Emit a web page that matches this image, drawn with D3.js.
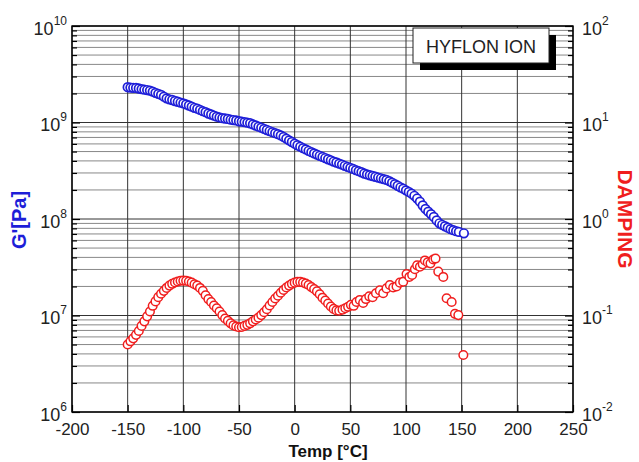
<!DOCTYPE html>
<html>
<head>
<meta charset="utf-8">
<script src="https://cdn.jsdelivr.net/npm/d3@7"></script>
<style>
  body { margin: 0; background: #fff; }
  svg { display: block; font-family: "Liberation Sans", Arial, sans-serif; }
</style>
</head>
<body>
<svg width="639" height="462"></svg>
<script>
// storage modulus G' (Pa) vs temperature (°C)
const modTemp = [
  -150, -147.5, -145, -142.5, -140, -137.5, -135, -132.5, -130, -127.5,
  -125, -122.5, -120, -117.5, -115, -112.5, -110, -107.5, -105, -102.5,
  -100, -97.5, -95, -92.5, -90, -87.5, -85, -82.5, -80, -77.5,
  -75, -72.5, -70, -67.5, -65, -62.5, -60, -57.5, -55, -52.5,
  -50, -47.5, -45, -42.5, -40, -37.5, -35, -32.5, -30, -27.5,
  -25, -22.5, -20, -17.5, -15, -12.5, -10, -7.5, -5, -2.5,
  0, 2.5, 5, 7.5, 10, 12.5, 15, 17.5, 20, 22.5,
  25, 27.5, 30, 32.5, 35, 37.5, 40, 42.5, 45, 47.5,
  50, 52.5, 55, 57.5, 60, 62.5, 65, 67.5, 70, 72.5,
  75, 77.5, 80, 82.5, 85, 87.5, 90, 92.5, 95, 97.5,
  100, 102.5, 105, 107.5, 110, 112.5, 115, 117.5, 120, 122.5,
  125, 127.5, 130, 132.5, 135, 137.5, 140, 142.5, 145, 147.5,
  152
];
const modG = [
  2.32e9, 2.30e9, 2.29e9, 2.28e9, 2.25e9, 2.22e9, 2.19e9, 2.17e9, 2.14e9, 2.09e9,
  2.03e9, 1.98e9, 1.93e9, 1.85e9, 1.78e9, 1.74e9, 1.71e9, 1.67e9, 1.64e9, 1.61e9,
  1.58e9, 1.54e9, 1.50e9, 1.46e9, 1.42e9, 1.39e9, 1.35e9, 1.31e9, 1.28e9, 1.24e9,
  1.21e9, 1.18e9, 1.15e9, 1.13e9, 1.11e9, 1.10e9, 1.09e9, 1.07e9, 1.06e9, 1.05e9,
  1.03e9, 1.02e9, 1.01e9, 9.95e8, 9.82e8, 9.55e8, 9.31e8, 9.06e8, 8.83e8, 8.59e8,
  8.36e8, 8.15e8, 7.94e8, 7.76e8, 7.57e8, 7.35e8, 7.08e8, 6.81e8, 6.53e8, 6.28e8,
  6.03e8, 5.81e8, 5.62e8, 5.43e8, 5.26e8, 5.09e8, 4.93e8, 4.78e8, 4.65e8, 4.52e8,
  4.40e8, 4.28e8, 4.16e8, 4.06e8, 3.94e8, 3.85e8, 3.75e8, 3.66e8, 3.56e8, 3.47e8,
  3.38e8, 3.30e8, 3.21e8, 3.13e8, 3.05e8, 2.96e8, 2.90e8, 2.84e8, 2.79e8, 2.74e8,
  2.69e8, 2.64e8, 2.59e8, 2.54e8, 2.47e8, 2.38e8, 2.30e8, 2.21e8, 2.13e8, 2.06e8,
  1.98e8, 1.91e8, 1.83e8, 1.74e8, 1.63e8, 1.51e8, 1.38e8, 1.27e8, 1.19e8, 1.12e8,
  1.05e8, 9.66e7, 9.02e7, 8.71e7, 8.41e7, 8.13e7, 7.85e7, 7.66e7, 7.48e7, 7.35e7,
  7.11e7
];

// damping (tan delta) vs temperature
const dampTemp = [
  -150, -147.5, -145, -142.5, -140, -137.5, -135, -132.5, -130, -127.5,
  -125, -122.5, -120, -117.5, -115, -112.5, -110, -107.5, -105, -102.5,
  -100, -97.5, -95, -92.5, -90, -87.5, -85, -82.5, -80, -77.5,
  -75, -72.5, -70, -67.5, -65, -62.5, -60, -57.5, -55, -52.5,
  -50, -47.5, -45, -42.5, -40, -37.5, -35, -32.5, -30, -27.5,
  -25, -22.5, -20, -17.5, -15, -12.5, -10, -7.5, -5, -2.5,
  0, 2.5, 5, 7.5, 10, 12.5, 15, 17.5, 20, 22.5,
  25, 27.5, 30, 32.5, 35, 37.5, 40,
  43, 45.5, 48, 50.5, 53, 55.5, 58.5, 61.5, 64, 67,
  70, 73, 76.5, 79.5, 82.5, 85.5, 88.5, 91.5, 94.5, 97.5,
  100.5, 103, 105.5, 108, 110, 112.5, 115, 117, 119.5, 122,
  124.5, 126.5, 129, 133.5, 136.5, 141, 144, 147, 151.5
];
const dampVal = [
  0.050, 0.054, 0.058, 0.063, 0.069, 0.078, 0.087, 0.098, 0.110, 0.126,
  0.140, 0.155, 0.168, 0.180, 0.193, 0.204, 0.213, 0.220, 0.225, 0.229,
  0.230, 0.229, 0.225, 0.219, 0.211, 0.204, 0.193, 0.180, 0.162, 0.148,
  0.138, 0.127, 0.119, 0.110, 0.101, 0.093, 0.088, 0.083, 0.079, 0.077,
  0.0755, 0.076, 0.078, 0.080, 0.083, 0.087, 0.091, 0.095, 0.101, 0.108,
  0.116, 0.127, 0.138, 0.150, 0.160, 0.172, 0.184, 0.195, 0.204, 0.213,
  0.219, 0.223, 0.223, 0.220, 0.214, 0.207, 0.197, 0.188, 0.178, 0.166,
  0.153, 0.143, 0.133, 0.124, 0.117, 0.113, 0.112,
  0.115, 0.119, 0.123, 0.129, 0.126, 0.138, 0.145, 0.135, 0.148, 0.158,
  0.155, 0.170, 0.182, 0.170, 0.191, 0.207, 0.195, 0.200, 0.219, 0.224,
  0.269, 0.251, 0.263, 0.302, 0.331, 0.320, 0.339, 0.372, 0.355, 0.347,
  0.380, 0.389, 0.285, 0.251, 0.151, 0.138, 0.104, 0.101, 0.039
];

const tempTicks = [-200, -150, -100, -50, 0, 50, 100, 150, 200, 250];
const gTicks = [1e6, 1e7, 1e8, 1e9, 1e10];
const dampTicks = [1e-2, 1e-1, 1e0, 1e1, 1e2];
const legendText = "HYFLON ION";

const svg = d3.select("svg");
const plotL = 72, plotR = 573, plotT = 26, plotB = 412;
const blue = "#1e1ed8", red = "#f01e1e";

const x = d3.scaleLinear().domain([-200, 250]).range([plotL, plotR]);
const yG = d3.scaleLog().domain([1e6, 1e10]).range([plotB, plotT]);
const yD = d3.scaleLog().domain([1e-2, 1e2]).range([plotB, plotT]);

const minorG = gTicks.slice(0, -1).flatMap(d => d3.range(2, 10).map(k => d * k));
const minorD = dampTicks.slice(0, -1).flatMap(d => d3.range(2, 10).map(k => d * k));

// grid
const grid = svg.append("g");
grid.selectAll("line.minor").data(minorG).join("line")
  .attr("class", "minor")
  .attr("x1", plotL).attr("x2", plotR)
  .attr("y1", d => yG(d)).attr("y2", d => yG(d))
  .attr("stroke", "#7a7a7a").attr("stroke-width", 0.9);
grid.selectAll("line.hmajor").data(gTicks).join("line")
  .attr("class", "hmajor")
  .attr("x1", plotL).attr("x2", plotR)
  .attr("y1", d => yG(d)).attr("y2", d => yG(d))
  .attr("stroke", "#333").attr("stroke-width", 1);
grid.selectAll("line.vmajor").data(tempTicks).join("line")
  .attr("class", "vmajor")
  .attr("x1", d => x(d)).attr("x2", d => x(d))
  .attr("y1", plotT).attr("y2", plotB)
  .attr("stroke", "#333").attr("stroke-width", 1);

// axes
function styleAxis(g) {
  g.select(".domain").remove();
  g.selectAll(".tick line").attr("stroke", "#000").attr("stroke-width", 1.2);
  g.selectAll(".tick text").attr("fill", "#222").attr("font-size", 17);
}

function supLabels(g) {
  g.selectAll(".tick text").each(function (d) {
    const t = d3.select(this).text(null).attr("dy", "0.47em").attr("font-size", 18);
    t.append("tspan").text("10");
    t.append("tspan").attr("dy", -10).attr("font-size", 12).text(Math.round(Math.log10(d)));
  });
}

svg.append("g").attr("transform", `translate(0,${plotB})`)
  .call(d3.axisBottom(x).tickValues(tempTicks).tickFormat(d => d).tickSize(-7).tickPadding(11))
  .call(styleAxis);

svg.append("g").attr("transform", `translate(${plotL},0)`)
  .call(d3.axisLeft(yG).tickValues(minorG).tickFormat("").tickSize(-5))
  .call(styleAxis);
svg.append("g").attr("transform", `translate(${plotL},0)`)
  .call(d3.axisLeft(yG).tickValues(gTicks).tickSize(-8).tickPadding(5))
  .call(styleAxis).call(supLabels);

svg.append("g").attr("transform", `translate(${plotR},0)`)
  .call(d3.axisRight(yD).tickValues(minorD).tickFormat("").tickSize(-5))
  .call(styleAxis);
svg.append("g").attr("transform", `translate(${plotR},0)`)
  .call(d3.axisRight(yD).tickValues(dampTicks).tickSize(-8).tickPadding(9))
  .call(styleAxis).call(supLabels);

// frame
svg.append("rect")
  .attr("x", plotL).attr("y", plotT)
  .attr("width", plotR - plotL).attr("height", plotB - plotT)
  .attr("fill", "none").attr("stroke", "#000").attr("stroke-width", 1.4);

// data
svg.append("g").selectAll("circle").data(modTemp).join("circle")
  .attr("cx", d => x(d))
  .attr("cy", (d, i) => yG(modG[i]))
  .attr("r", 4.3)
  .attr("fill", "#fff").attr("stroke", blue).attr("stroke-width", 1.7);

svg.append("g").selectAll("circle").data(dampTemp).join("circle")
  .attr("cx", d => x(d))
  .attr("cy", (d, i) => yD(dampVal[i]))
  .attr("r", 4.3)
  .attr("fill", "#fff").attr("stroke", red).attr("stroke-width", 1.5);

// legend box with shadow
const lg = svg.append("g");
lg.append("rect").attr("x", 420).attr("y", 35).attr("width", 136).attr("height", 35).attr("fill", "#000");
lg.append("rect").attr("x", 413).attr("y", 28).attr("width", 136).attr("height", 35)
  .attr("fill", "#fff").attr("stroke", "#222").attr("stroke-width", 1);
lg.append("text").attr("x", 481).attr("y", 53).attr("text-anchor", "middle")
  .attr("font-size", 18).attr("fill", "#222").text(legendText);

// axis titles
svg.append("text").attr("x", 328).attr("y", 457).attr("text-anchor", "middle")
  .attr("font-size", 17).attr("font-weight", "bold").attr("fill", "#111")
  .text("Temp [°C]");

svg.append("text").attr("transform", "translate(26,220) rotate(-90)")
  .attr("text-anchor", "middle").attr("font-size", 20).attr("font-weight", "bold")
  .attr("fill", blue).text("G'[Pa]");

svg.append("text").attr("transform", "translate(618,219) rotate(90)")
  .attr("text-anchor", "middle").attr("font-size", 21).attr("font-weight", "bold")
  .attr("fill", red).text("DAMPING");
</script>
</body>
</html>
